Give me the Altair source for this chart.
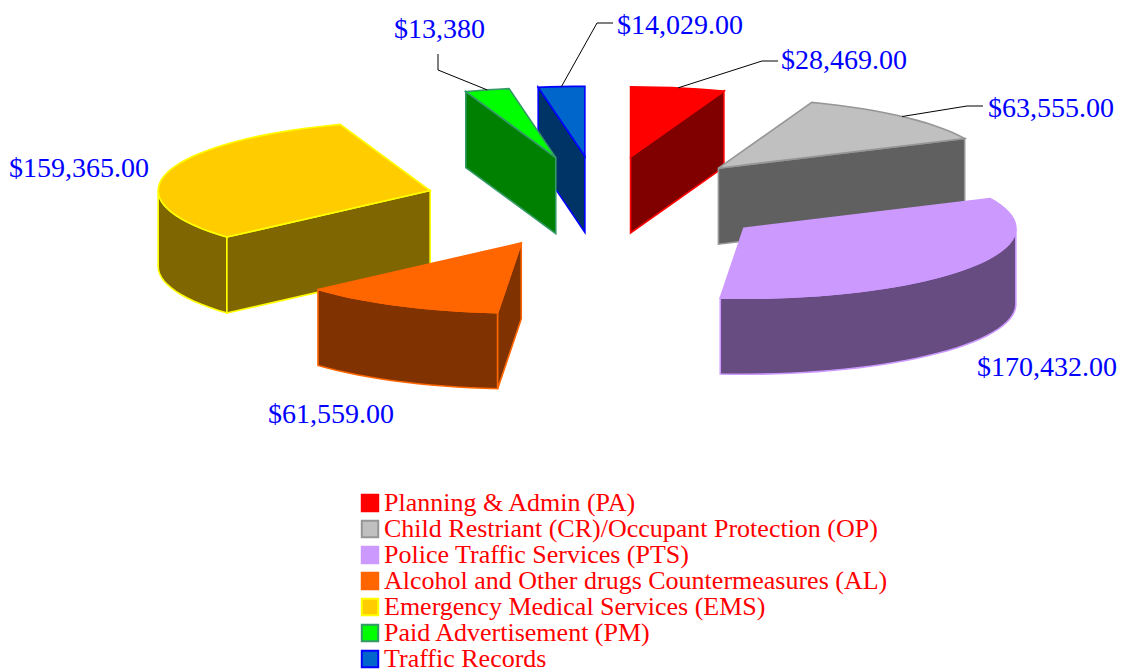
import math
import altair as alt

categories = ["Planning & Admin (PA)", "Child Restriant (CR)/Occupant Protection (OP)",
              "Police Traffic Services (PTS)", "Alcohol and Other drugs Countermeasures (AL)",
              "Emergency Medical Services (EMS)", "Paid Advertisement (PM)", "Traffic Records"]
values = [28469, 63555, 170432, 61559, 159365, 13380, 14029]
labels = ["$28,469.00", "$63,555.00", "$170,432.00", "$61,559.00", "$159,365.00", "$13,380", "$14,029.00"]
top_colors = ["#FF0000", "#C0C0C0", "#CC99FF", "#FF6600", "#FFCC00", "#00FF00", "#0066CC"]
side_colors = ["#800000", "#606060", "#664C80", "#803300", "#806600", "#008000", "#003366"]
edge_colors = ["#FF0000", "#969696", "#CC99FF", "#FF6600", "#FFFF00", "#339966", "#0000FF"]

# layout of the projected pie (page pixels)
CX, CY, RX, RY, EXPLODE_X, EXPLODE_Y, DEPTH = 600, 202, 272, 70, 0.645, 0.655, 76
LABEL_POS = [(781, 69), (988, 117), (977, 376), (268, 423), (9, 177), (394, 38), (617, 34)]
LEADER_BENDS = {0: [(762, 61), (778, 61)], 1: [(967, 106), (983, 106)],
                5: [(438, 70), (438, 54)], 6: [(597, 23), (613, 23)]}
PAINT_ORDER = [6, 0, 1, 2, 4, 3, 5]


def rim(deg, apex=(0, 0)):
    t = math.radians(deg)
    return (apex[0] + RX * math.sin(t), apex[1] - RY * math.cos(t))


def arc(a, b, apex):
    n = max(2, int(abs(b - a) / 3) + 1)
    return [rim(a + (b - a) * i / n, apex) for i in range(n + 1)]


def down(pts):
    return [(x, y + DEPTH) for x, y in pts]


def feature(kind, pts, i, geom="Polygon"):
    coords = [[list(p) for p in pts] + [list(pts[0])]] if geom == "Polygon" else [list(p) for p in pts]
    return {"type": "Feature", "geometry": {"type": geom, "coordinates": coords},
            "properties": {"cat": categories[i], "fill": side_colors[i], "edge": edge_colors[i], "kind": kind}}


total = sum(values)
spans, start = [], 0.0
for v in values:
    spans.append((start, start + 360.0 * v / total))
    start += 360.0 * v / total
apexes = []
for a, b in spans:
    m = math.radians((a + b) / 2)
    apexes.append((CX + RX * EXPLODE_X * math.sin(m), CY - RY * EXPLODE_Y * math.cos(m)))

sides, tops, leaders, texts = [], [], [], []
for i in PAINT_ORDER:
    a, b = spans[i]
    ap = apexes[i]
    lo, hi = max(a, 90), min(b, 270)
    if lo < hi:
        w = arc(lo, hi, ap)
        sides.append(feature("wall", w + down(w)[::-1], i))
    if 0 < b < 180:
        e = rim(b, ap)
        sides.append(feature("end", [ap, e, (e[0], e[1] + DEPTH), (ap[0], ap[1] + DEPTH)], i))
    if 180 < a < 360:
        e = rim(a, ap)
        sides.append(feature("start", [ap, e, (e[0], e[1] + DEPTH), (ap[0], ap[1] + DEPTH)], i))
for i in range(len(values)):
    a, b = spans[i]
    tops.append(feature("top", [apexes[i]] + arc(a, b, apexes[i]), i))
    texts.append({"label": labels[i], "lon": LABEL_POS[i][0], "lat": LABEL_POS[i][1]})
    if i in LEADER_BENDS:
        leaders.append(feature("leader", [rim((a + b) / 2, apexes[i])] + LEADER_BENDS[i], i, "LineString"))

proj = alt.Projection(type="identity", scale=1, translate=[-8, -8])

side_layer = alt.Chart(alt.Data(values=sides)).mark_geoshape(strokeWidth=1.6).encode(
    fill=alt.Fill("properties.fill:N", scale=None),
    stroke=alt.Stroke("properties.edge:N", scale=None),
).project(**proj.to_dict())

top_layer = alt.Chart(alt.Data(values=tops)).mark_geoshape(strokeWidth=1.6).encode(
    fill=alt.Fill("properties.cat:N", scale=alt.Scale(domain=categories, range=top_colors),
                  legend=alt.Legend(orient="none", legendX=349, legendY=482, title=None,
                                    symbolType="square", symbolSize=270, symbolStrokeWidth=2,
                                    labelFont="Liberation Serif", labelFontSize=26, labelColor="#FF0000",
                                    labelLimit=700, rowPadding=0, labelOffset=1)),
    stroke=alt.Stroke("properties.cat:N", scale=alt.Scale(domain=categories, range=edge_colors), legend=None),
).project(**proj.to_dict())

leader_layer = alt.Chart(alt.Data(values=leaders)).mark_geoshape(
    filled=False, stroke="#000000", strokeWidth=1).project(**proj.to_dict())

text_layer = alt.Chart(alt.Data(values=texts)).mark_text(
    font="Liberation Serif", fontSize=28, color="#0000FF", align="left", baseline="alphabetic").encode(
    longitude="lon:Q", latitude="lat:Q", text="label:N").project(**proj.to_dict())

chart = alt.layer(side_layer, top_layer, leader_layer, text_layer).resolve_scale(
    fill="independent", stroke="independent"
).properties(width=1110, height=664, padding=0, autosize=alt.AutoSizeParams(type="none"),
             background="#FFFFFF").configure_view(stroke=None)

chart.save("out.html", embed_options={"renderer": "svg", "actions": False})
